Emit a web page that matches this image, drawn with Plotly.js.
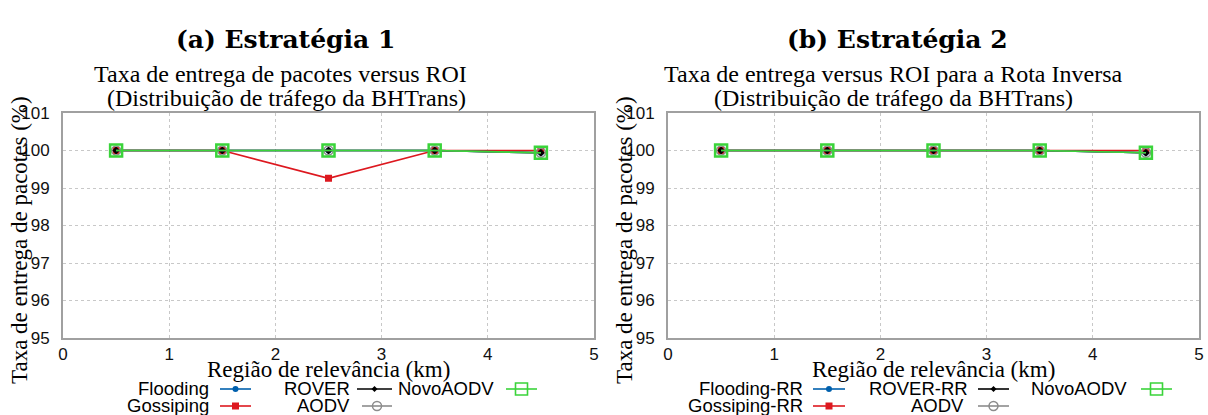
<!DOCTYPE html>
<html>
<head>
<meta charset="utf-8">
<script src="https://cdn.plot.ly/plotly-3.0.1.min.js"></script>
<style>
html,body{margin:0;padding:0;background:#fff;}
#chart{width:1208px;height:415px;}
</style>
</head>
<body>
<div id="chart"></div>
<script>
// ---- data ----
const roiKm = [0.5, 1.5, 2.5, 3.5, 4.5];

const flooding1  = [100, 100, 100,   100, 99.94];
const gossiping1 = [100, 100, 99.26, 100, 100];
const rover1     = [100, 100, 100,   100, 99.94];
const aodv1      = [100, 100, 100,   100, 99.94];
const novo1      = [100, 100, 100,   100, 99.94];

const flooding2  = [100, 100, 100, 100, 99.94];
const gossiping2 = [100, 100, 100, 100, 100];
const rover2     = [100, 100, 100, 100, 99.94];
const aodv2      = [100, 100, 100, 100, 99.94];
const novo2      = [100, 100, 100, 100, 99.94];

const namesLeft  = ["Flooding", "Gossiping", "ROVER", "AODV", "NovoAODV"];
const namesRight = ["Flooding-RR", "Gossiping-RR", "ROVER-RR", "AODV", "NovoAODV"];

const xTicks = [0, 1, 2, 3, 4, 5];
const yTicks = [95, 96, 97, 98, 99, 100, 101];

const captionLeft  = "(a) Estratégia 1";
const captionRight = "(b) Estratégia 2";
const titleLeft1  = "Taxa de entrega de pacotes versus ROI";
const titleLeft2  = " (Distribuição de tráfego da BHTrans)";
const titleRight1 = "Taxa de entrega versus ROI para a Rota Inversa";
const titleRight2 = "(Distribuição de tráfego da BHTrans)";
const xTitle = "Região de relevância (km)";
const yTitle = "Taxa de entrega de pacotes (%)";

// ---- styles ----
const W = 1208, H = 415;
const px = x => x / W;
const py = y => 1 - y / H;

const styles = [
  {color: '#0060ad', symbol: 'circle', size: 6, lw: 0},
  {color: '#dd181f', symbol: 'square', size: 7, lw: 0},
  {color: '#000000', symbol: 'diamond', size: 6, lw: 0},
  {color: '#8c8c8c', symbol: 'circle-open', size: 9, lw: 1.5},
  {color: '#3ad43a', symbol: 'square-open', size: 12, lw: 2.5}
];

function mk(y, i, xa, ya, name) {
  const s = styles[i];
  return {
    x: roiKm, y: y, xaxis: xa, yaxis: ya, name: name,
    type: 'scatter', mode: 'lines+markers', showlegend: false,
    line: {color: s.color, width: 1.7},
    marker: {symbol: s.symbol, size: s.size, color: s.color,
             line: {color: s.color, width: s.lw}}
  };
}

const data = [
  mk(flooding1, 0, 'x', 'y', namesLeft[0]),
  mk(gossiping1, 1, 'x', 'y', namesLeft[1]),
  mk(rover1, 2, 'x', 'y', namesLeft[2]),
  mk(aodv1, 3, 'x', 'y', namesLeft[3]),
  mk(novo1, 4, 'x', 'y', namesLeft[4]),
  mk(flooding2, 0, 'x2', 'y2', namesRight[0]),
  mk(gossiping2, 1, 'x2', 'y2', namesRight[1]),
  mk(rover2, 2, 'x2', 'y2', namesRight[2]),
  mk(aodv2, 3, 'x2', 'y2', namesRight[3]),
  mk(novo2, 4, 'x2', 'y2', namesRight[4])
];

const tickFont = {family: 'Liberation Sans, Arial, sans-serif', size: 17, color: '#111'};
const serif = 'Liberation Serif, Times New Roman, serif';

function xax(domain, anchor) {
  return {
    domain: domain, anchor: anchor, range: [0, 5],
    tickvals: xTicks, ticktext: xTicks.map(String),
    ticks: '', ticklen: 0, showline: true, mirror: true, linecolor: '#a0a0a0', linewidth: 2,
    showgrid: true, gridcolor: '#c8c8c8', griddash: 'dot', gridwidth: 1,
    zeroline: false, tickfont: tickFont
  };
}
function yax(domain, anchor) {
  return {
    domain: domain, anchor: anchor, range: [95, 101],
    tickvals: yTicks, ticktext: yTicks.map(String),
    ticks: '', ticklen: 0, showline: true, mirror: true, linecolor: '#a0a0a0', linewidth: 2,
    showgrid: true, gridcolor: '#c8c8c8', griddash: 'dot', gridwidth: 1,
    zeroline: false, tickfont: tickFont, ticklabelstandoff: 8
  };
}

const PL = {x0: 63, x1: 594}, PR = {x0: 668, x1: 1199};
const plotTop = 113, plotBot = 338;

const annotations = [];
const shapes = [];
function txt(x, y, text, font, xanchor, extra) {
  annotations.push(Object.assign({
    xref: 'paper', yref: 'paper', x: px(x), y: py(y), text: text,
    showarrow: false, xanchor: xanchor || 'center', yanchor: 'middle',
    font: font
  }, extra || {}));
}

const capFont = {family: 'DejaVu Serif, serif', size: 25, color: '#000', weight: 'bold'};
const titleFont = {family: serif, size: 24, color: '#000'};
const axFont = {family: serif, size: 23, color: '#000'};
const yFont = {family: serif, size: 23, color: '#000'};
const legFont = {family: 'Liberation Sans, Arial, sans-serif', size: 18.5, color: '#000'};

// captions and titles
txt(285, 40, captionLeft, capFont);
txt(897, 40, captionRight, capFont);
txt(280, 74, titleLeft1, titleFont);
txt(283, 98, titleLeft2, titleFont);
txt(893, 74, titleRight1, titleFont);
txt(893, 98, titleRight2, titleFont);
// axis titles
txt((PL.x0 + PL.x1) / 2, 369, xTitle, axFont);
txt((PR.x0 + PR.x1) / 2, 369, xTitle, axFont);
txt(19, 240, yTitle, yFont, 'center', {textangle: -90});
txt(624, 240, yTitle, yFont, 'center', {textangle: -90});

// custom gnuplot-like legend
function legendItem(textRight, y, sx0, sx1, i, name) {
  txt(textRight, y, name, legFont, 'right');
  const s = styles[i];
  shapes.push({type: 'line', xref: 'paper', yref: 'paper',
    x0: px(sx0), x1: px(sx1), y0: py(y + 1), y1: py(y + 1),
    line: {color: s.color, width: 1.6}});
  const cx = (sx0 + sx1) / 2, cy = y + 1, r = s.size / 2;
  const filled = s.lw === 0;
  const base = {xref: 'paper', yref: 'paper',
    line: {color: s.color, width: filled ? 0 : Math.min(s.lw, 1.6)},
    fillcolor: filled ? s.color : 'rgba(0,0,0,0)'};
  if (s.symbol.startsWith('circle')) {
    shapes.push(Object.assign({type: 'circle', x0: px(cx - r), x1: px(cx + r), y0: py(cy - r), y1: py(cy + r)}, base));
  } else if (s.symbol.startsWith('square')) {
    shapes.push(Object.assign({type: 'rect', x0: px(cx - r), x1: px(cx + r), y0: py(cy - r), y1: py(cy + r)}, base));
  } else {
    const d = 'M' + px(cx) + ',' + py(cy - r) + ' L' + px(cx + r) + ',' + py(cy) +
              ' L' + px(cx) + ',' + py(cy + r) + ' L' + px(cx - r) + ',' + py(cy) + ' Z';
    shapes.push(Object.assign({type: 'path', path: d}, base));
  }
}
const row1 = 388, row2 = 405;
legendItem(211, row1, 220, 251, 0, namesLeft[0]);
legendItem(211, row2, 220, 251, 1, namesLeft[1]);
legendItem(352, row1, 357, 392, 2, namesLeft[2]);
legendItem(352, row2, 362, 392, 3, namesLeft[3]);
legendItem(496, row1, 506, 537, 4, namesLeft[4]);

legendItem(805, row1, 813, 845, 0, namesRight[0]);
legendItem(805, row2, 813, 845, 1, namesRight[1]);
legendItem(970, row1, 978, 1009, 2, namesRight[2]);
legendItem(966, row2, 978, 1009, 3, namesRight[3]);
legendItem(1129, row1, 1141, 1172, 4, namesRight[4]);

const layout = {
  width: W, height: H,
  margin: {l: 0, r: 0, t: 0, b: 0},
  paper_bgcolor: '#fff', plot_bgcolor: '#fff',
  showlegend: false,
  xaxis: xax([px(PL.x0), px(PL.x1)], 'y'),
  yaxis: yax([py(plotBot), py(plotTop)], 'x'),
  xaxis2: xax([px(PR.x0), px(PR.x1)], 'y2'),
  yaxis2: yax([py(plotBot), py(plotTop)], 'x2'),
  annotations: annotations,
  shapes: shapes
};

Plotly.newPlot('chart', data, layout, {staticPlot: true, displayModeBar: false});
</script>
</body>
</html>
